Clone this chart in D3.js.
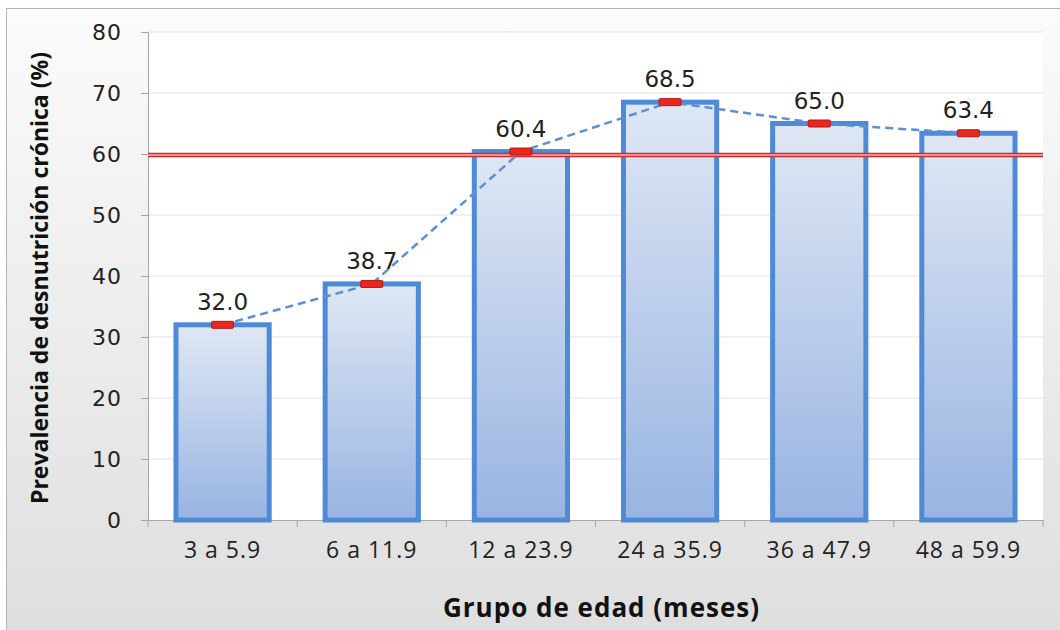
<!DOCTYPE html>
<html>
<head>
<meta charset="utf-8">
<script src="https://cdn.jsdelivr.net/npm/d3@7"></script>
<style>
  body { margin: 0; background: #fff; }
  svg { display: block; }
</style>
</head>
<body>
<svg id="chart"></svg>
<script>
const width = 1060, height = 630;

// data
const groups = ["3 a 5.9", "6 a 11.9", "12 a 23.9", "24 a 35.9", "36 a 47.9", "48 a 59.9"];
const prevalence = [32.0, 38.7, 60.4, 68.5, 65.0, 63.4];
const yTicks = [0, 10, 20, 30, 40, 50, 60, 70, 80];
const refLine = 60;

const margin = { top: 32, right: 17, bottom: 110, left: 148 };
const plotW = width - margin.left - margin.right;
const plotH = height - margin.top - margin.bottom;

const svg = d3.select("#chart")
    .attr("width", width)
    .attr("height", height);

const defs = svg.append("defs");

// frame background gradient
const bg = defs.append("linearGradient")
    .attr("id", "bg-grad")
    .attr("x1", 0).attr("y1", 0).attr("x2", 0).attr("y2", 1);
bg.append("stop").attr("offset", "0%").attr("stop-color", "#fbfbfb");
bg.append("stop").attr("offset", "100%").attr("stop-color", "#dedede");

// bar fill gradient
const barGrad = defs.append("linearGradient")
    .attr("id", "bar-grad")
    .attr("x1", 0).attr("y1", 0).attr("x2", 0).attr("y2", 1);
barGrad.append("stop").attr("offset", "0%").attr("stop-color", "#dfe7f4");
barGrad.append("stop").attr("offset", "100%").attr("stop-color", "#98b4e2");

svg.append("rect")
    .attr("x", 6.5).attr("y", 8.5)
    .attr("width", width).attr("height", height)
    .attr("fill", "url(#bg-grad)")
    .attr("stroke", "#b4b4b4");

const g = svg.append("g")
    .attr("transform", `translate(${margin.left},${margin.top})`);

g.append("rect")
    .attr("width", plotW).attr("height", plotH)
    .attr("fill", "#fff");

const x = d3.scaleBand()
    .domain(groups)
    .range([0, plotW])
    .padding(0);

const y = d3.scaleLinear()
    .domain([0, 80])
    .range([plotH, 0]);

// gridlines
g.append("g")
    .selectAll("line")
    .data(yTicks.filter(d => d > 0))
    .join("line")
    .attr("x1", 0).attr("x2", plotW)
    .attr("y1", d => y(d)).attr("y2", d => y(d))
    .attr("stroke", "#e3e3e3")
    .attr("stroke-width", 1);

// y axis
const yAxis = g.append("g")
    .call(d3.axisLeft(y).tickValues(yTicks).tickSize(7).tickPadding(19).tickFormat(d3.format("d")));
yAxis.select(".domain").attr("stroke", "#a6a6a6");
yAxis.selectAll(".tick line").attr("stroke", "#a6a6a6");
yAxis.selectAll("text")
    .attr("fill", "#222")
    .style("font-family", "'DejaVu Sans', Verdana, sans-serif")
    .style("font-size", "22px")
    .style("letter-spacing", "1px");

// x axis
const xAxis = g.append("g")
    .attr("transform", `translate(0,${plotH})`)
    .call(d3.axisBottom(x).tickSize(0).tickPadding(22));
xAxis.select(".domain").attr("stroke", "#a6a6a6");
xAxis.selectAll("text")
    .attr("fill", "#222")
    .style("font-family", "'Open Sans', sans-serif")
    .style("font-size", "23px")
    .style("letter-spacing", "1px");

// category separators on x axis
xAxis.append("g")
    .selectAll("line")
    .data(d3.range(groups.length + 1))
    .join("line")
    .attr("x1", i => i * x.bandwidth()).attr("x2", i => i * x.bandwidth())
    .attr("y1", 0).attr("y2", 7)
    .attr("stroke", "#a6a6a6");

// bars
const barW = x.bandwidth() * 0.625;
g.append("g")
    .selectAll("rect")
    .data(prevalence)
    .join("rect")
    .attr("x", (d, i) => x(groups[i]) + (x.bandwidth() - barW) / 2)
    .attr("y", d => y(d))
    .attr("width", barW)
    .attr("height", d => plotH - y(d))
    .attr("fill", "url(#bar-grad)")
    .attr("stroke", "#4f8ad6")
    .attr("stroke-width", 5);

// reference line at 60%
const refG = g.append("g");
refG.append("line")
    .attr("x1", 0).attr("x2", plotW)
    .attr("y1", y(refLine) + 1).attr("y2", y(refLine) + 1)
    .attr("stroke", "#d42a2a")
    .attr("stroke-width", 4.5);
refG.append("line")
    .attr("x1", 0).attr("x2", plotW)
    .attr("y1", y(refLine) + 1).attr("y2", y(refLine) + 1)
    .attr("stroke", "#f2b3b3")
    .attr("stroke-width", 1.5);

// dashed trend line
const line = d3.line()
    .x((d, i) => x(groups[i]) + x.bandwidth() / 2)
    .y(d => y(d));
g.append("path")
    .datum(prevalence)
    .attr("d", line)
    .attr("fill", "none")
    .attr("stroke", "#5b8fd8")
    .attr("stroke-width", 2.5)
    .attr("stroke-dasharray", "8,5");

// red markers
g.append("g")
    .selectAll("rect")
    .data(prevalence)
    .join("rect")
    .attr("x", (d, i) => x(groups[i]) + x.bandwidth() / 2 - 11)
    .attr("y", d => y(d) - 3.5)
    .attr("width", 22)
    .attr("height", 7)
    .attr("rx", 1)
    .attr("fill", "#e8281e")
    .attr("stroke", "#b8160f")
    .attr("stroke-width", 1);

// value labels
g.append("g")
    .selectAll("text")
    .data(prevalence)
    .join("text")
    .attr("x", (d, i) => x(groups[i]) + x.bandwidth() / 2)
    .attr("y", d => y(d) - 15)
    .attr("text-anchor", "middle")
    .attr("fill", "#222")
    .style("font-family", "'DejaVu Sans', Verdana, sans-serif")
    .style("font-size", "23px")
    .text(d => d.toFixed(1));

// axis titles
svg.append("text")
    .attr("transform", `translate(48,${margin.top + plotH / 2 + 2}) rotate(-90)`)
    .attr("text-anchor", "middle")
    .attr("fill", "#111")
    .style("font-family", "'Open Sans', sans-serif")
    .style("font-weight", "bold")
    .style("font-size", "23px")
    .text("Prevalencia de desnutrición crónica (%)");

svg.append("text")
    .attr("x", margin.left + plotW / 2 + 6)
    .attr("y", 617)
    .attr("text-anchor", "middle")
    .attr("fill", "#111")
    .style("font-family", "'Open Sans', sans-serif")
    .style("font-weight", "bold")
    .style("font-size", "26px")
    .style("letter-spacing", "1px")
    .text("Grupo de edad (meses)");
</script>
</body>
</html>
